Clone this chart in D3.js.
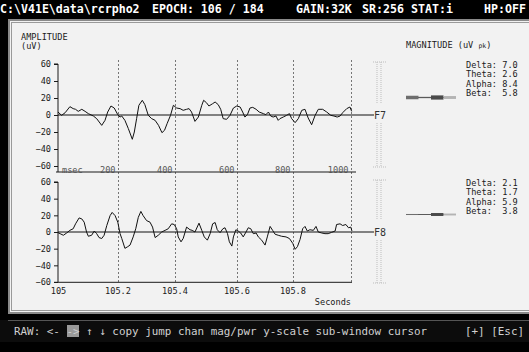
<!DOCTYPE html>
<html>
<head>
<meta charset="utf-8">
<script src="https://cdn.jsdelivr.net/npm/d3@7"></script>
<style>
  html, body { margin: 0; padding: 0; background: #000; }
  svg { display: block; }
  text { font-family: "DejaVu Sans Mono", monospace; }
</style>
</head>
<body>
<div id="chart"></div>
<script>
// header / footer texts
const headerItems = [
  { text: 'C:\\V41E\\data\\rcrpho2', x: 0 },
  { text: 'EPOCH: 106 / 184', x: 152 },
  { text: 'GAIN:32K', x: 296 },
  { text: 'SR:256', x: 362 },
  { text: 'STAT:i', x: 411 },
  { text: 'HP:OFF', x: 484 }
];
const menuText = 'RAW: <- -> \u2191 \u2193 copy jump chan mag/pwr y-scale sub-window cursor';
const menuRight = '[+] [Esc]';

// epoch
const epochStartSec = 105;
const msecTicks = [200, 400, 600, 800, 1000];
const secTicks = [0, 200, 400, 600, 800];
const ampTicks = [-60, -40, -20, 0, 20, 40, 60];

// channels
const channelNames = ['F7', 'F8'];
const bandNames = ['Delta', 'Theta', 'Alpha', 'Beta'];
const f7Magnitude = [7.0, 2.6, 8.4, 5.8];
const f8Magnitude = [2.1, 1.7, 5.9, 3.8];

// raw trace, [msec, uV]
const f7Trace = [[0,3.5],[12,-0.4],[24,2.7],[40,9.8],[51,7.5],[59,6.7],[68,4.3],[80,6.7],[91,4.3],[102,1.6],[119,-1.2],[130,-4.3],[147,-12.2],[158,-6.3],[167,3.5],[178,10.6],[189,8.2],[201,0.4],[209,-2.4],[215,-1.2],[226,-6.3],[238,-16],[252,-28.6],[259,-20],[267,-4.3],[275,11.4],[287,17.3],[296,12.2],[308,-0.4],[320,-4.3],[332,-6.3],[344,-12.2],[356,-20.8],[365,-18],[374,-10.2],[386,-0.4],[396,11.4],[407,8.2],[418,7.5],[428,5.5],[439,6.7],[447,7.5],[455,3.5],[466,-7.5],[477,-2.4],[488,11.4],[494,17.3],[503,14.5],[511,10.6],[523,13.3],[531,15.3],[541,12.2],[549,6.7],[557,-4.3],[568,-5.1],[579,-0.4],[590,8.2],[601,10.6],[613,9.4],[622,3.5],[630,-2.4],[639,0.4],[648,8.2],[658,9],[670,6.7],[681,3.5],[696,1.6],[705,0.4],[714,3.5],[722,-1.2],[731,-2.4],[741,-1.2],[749,-6.3],[755,-4.3],[767,-2.4],[779,-0.4],[789,1.6],[797,-4.3],[809,-9],[820,-4.3],[832,5.5],[843,6.7],[854,-3.5],[866,-11.4],[878,-0.4],[889,6.7],[904,6.7],[918,3.5],[932,-0.4],[943,-1.2],[954,-2.4],[964,-1.2],[973,2.7],[987,7.5],[998,9.4],[1004,4.3]];
const f8Trace = [[0,-0.8],[7,-2],[18,-3.9],[29,-1.2],[40,2],[51,3.9],[59,9.8],[71,16.9],[80,15.7],[88,11.8],[96,0],[102,-5.1],[113,-3.9],[122,1.2],[130,-2],[138,-6.7],[147,-7.8],[155,-3.9],[164,7.8],[175,19.6],[182,23.5],[192,19.6],[201,11.8],[209,-2],[215,-7.8],[226,-19.6],[236,-17.6],[244,-15.7],[255,-5.9],[264,3.9],[273,17.6],[282,24.7],[290,19.6],[302,13.7],[314,11.8],[323,5.9],[332,-6.7],[343,-3.9],[355,0],[367,2],[378,3.9],[390,9.8],[399,9],[407,3.9],[412,-5.9],[421,-11.8],[428,-7.8],[439,5.9],[450,2.7],[457,2],[466,0],[479,10.6],[488,2],[496,-5.9],[506,-9.8],[515,-2],[523,9.8],[531,11.4],[538,2.7],[547,-0.8],[556,3.9],[563,5.1],[571,-2],[577,-11.8],[585,-16.9],[590,-5.9],[598,2.7],[606,1.2],[615,-1.2],[624,-5.9],[634,0],[642,5.1],[651,3.9],[660,-2],[670,-1.2],[678,-5.9],[690,-9.8],[702,-15.7],[710,-5.9],[720,6.7],[729,2],[738,-2.7],[749,-3.9],[761,-5.1],[777,-5.9],[789,-7.8],[801,-13.7],[809,-20.8],[817,-17.6],[826,-9],[835,3.9],[843,6.7],[851,1.2],[860,2.7],[872,2],[881,6.7],[889,0],[901,-1.2],[912,-2],[923,-2],[935,-0.4],[947,1.2],[952,9],[964,9.8],[973,7.8],[984,9],[993,5.1],[1001,5.9],[1005,1.2]];

const width = 529;
const height = 352;
const ink = '#1a1a1a';
const bandColors = ['#6e6e6e', '#5a5a5a', '#4a4a4a', '#b4b4b4'];

const svg = d3.select('#chart').append('svg')
  .attr('width', width)
  .attr('height', height);

svg.append('rect').attr('width', width).attr('height', height).attr('fill', '#000');

// header
svg.append('g').selectAll('text')
  .data(headerItems)
  .join('text')
  .attr('x', d => d.x)
  .attr('y', 13)
  .attr('fill', '#fff')
  .style('font-size', '11.6px')
  .style('font-weight', 'bold')
  .text(d => d.text);

// main panel with double frame
svg.append('rect').attr('x', 8).attr('y', 19).attr('width', 521).attr('height', 295).attr('fill', '#8a8a8a');
svg.append('rect').attr('x', 10).attr('y', 21).attr('width', 519).attr('height', 291).attr('fill', '#f2f2f2');
svg.append('rect').attr('x', 11.5).attr('y', 22.5).attr('width', 520).attr('height', 288)
  .attr('fill', 'none').attr('stroke', '#9a9a9a');

// footer menu
const menu = svg.append('g');
menu.append('rect').attr('x', 0).attr('y', 320).attr('width', width).attr('height', 22).attr('fill', '#0c0c0c');
menu.append('line').attr('x1', 8).attr('x2', width).attr('y1', 320.5).attr('y2', 320.5).attr('stroke', '#555');
menu.append('rect').attr('x', 67).attr('y', 325).attr('width', 12).attr('height', 12).attr('fill', '#9a9a9a');
menu.append('text').attr('x', 14).attr('y', 335).attr('fill', '#d0d0d0')
  .style('font-size', '10.9px').attr('xml:space', 'preserve').text(menuText);
menu.append('text').attr('x', 465).attr('y', 335).attr('fill', '#d0d0d0')
  .style('font-size', '10.9px').text(menuRight);

// scales
const xScale = d3.scaleLinear()
  .domain([0, 200, 400, 600, 800, 1000])
  .range([58, 117.5, 174.5, 236.5, 292.5, 350.5]);

const panels = [
  { name: channelNames[0], trace: f7Trace, mags: f7Magnitude, top: 64, bottom: 166, magY: 97.5, textY: 68 },
  { name: channelNames[1], trace: f8Trace, mags: f8Magnitude, top: 182, bottom: 282, magY: 214.5, textY: 186 }
];

const smallFont = '8.6px';

// amplitude title
svg.append('text').attr('x', 21).attr('y', 40).attr('fill', ink).style('font-size', smallFont).text('AMPLITUDE');
svg.append('text').attr('x', 21).attr('y', 49).attr('fill', ink).style('font-size', smallFont).text('(uV)');

// magnitude title
const magTitle = svg.append('text').attr('x', 406).attr('y', 48).attr('fill', ink).style('font-size', smallFont);
magTitle.append('tspan').text('MAGNITUDE (uV ');
magTitle.append('tspan').style('font-size', '6.5px').text('pk');
magTitle.append('tspan').text(')');

// vertical dashed epoch markers
svg.append('g').selectAll('line')
  .data(msecTicks)
  .join('line')
  .attr('x1', d => Math.round(xScale(d)) + 0.5).attr('x2', d => Math.round(xScale(d)) + 0.5)
  .attr('y1', 60).attr('y2', 282)
  .attr('stroke', '#555')
  .attr('stroke-width', 0.8)
  .attr('stroke-dasharray', '2,2');

panels.forEach((p, i) => {
  const yScale = d3.scaleLinear().domain([-60, 60]).range([p.bottom, p.top]);
  const g = svg.append('g');

  // y-axis
  g.append('g')
    .attr('transform', 'translate(58,0)')
    .call(d3.axisLeft(yScale).tickValues(ampTicks).tickSize(4).tickPadding(3).tickFormat(d3.format('d')))
    .call(a => a.select('.domain').attr('stroke', ink).attr('d', 'M-4,' + yScale(60) + 'H0V' + (i === 0 ? 172 : yScale(-60))))
    .call(a => a.selectAll('.tick line').attr('stroke', ink))
    .call(a => a.selectAll('.tick text').attr('fill', ink).style('font-size', smallFont).style('font-family', '"DejaVu Sans Mono", monospace'));

  // zero line and channel label
  g.append('line')
    .attr('x1', 58).attr('x2', 374)
    .attr('y1', yScale(0)).attr('y2', yScale(0))
    .attr('stroke', '#111').attr('stroke-width', 1.2);
  g.append('text')
    .attr('x', 374).attr('y', yScale(0) + 4)
    .attr('fill', '#333').style('font-size', '10px')
    .text(p.name);

  // trace
  const line = d3.line()
    .x(d => xScale(d[0]))
    .y(d => yScale(d[1]));
  g.append('path')
    .datum(p.trace)
    .attr('d', line)
    .attr('fill', 'none')
    .attr('stroke', '#111')
    .attr('stroke-width', 1);

  // scale bracket
  const br = g.append('g').attr('stroke', '#bdbdbd').attr('stroke-dasharray', '1,1');
  [[p.top - 2, yScale(0) - 12], [yScale(0) + 8, p.bottom + 1]].forEach(seg => {
    br.append('line').attr('x1', 377).attr('x2', 377).attr('y1', seg[0]).attr('y2', seg[1]);
    br.append('line').attr('x1', 381).attr('x2', 381).attr('y1', seg[0]).attr('y2', seg[1]);
  });
  br.append('line').attr('x1', 373).attr('x2', 386).attr('y1', p.top - 2).attr('y2', p.top - 2);
  br.append('line').attr('x1', 373).attr('x2', 386).attr('y1', p.bottom + 1).attr('y2', p.bottom + 1);

  // band magnitudes text
  g.append('g').selectAll('text')
    .data(bandNames)
    .join('text')
    .attr('x', 466)
    .attr('y', (d, j) => p.textY + j * 9.3)
    .attr('fill', ink)
    .attr('xml:space', 'preserve')
    .style('font-size', smallFont)
    .text((d, j) => (d + ':').padEnd(7, ' ') + p.mags[j].toFixed(1));

  // band magnitude bar
  const bandX = d3.scaleBand().domain(bandNames).range([406, 456]);
  const magH = d3.scaleLinear().domain([0, 10]).range([0, 5]);
  g.append('line')
    .attr('x1', 406).attr('x2', 456)
    .attr('y1', p.magY).attr('y2', p.magY)
    .attr('stroke', '#555').attr('stroke-width', 1);
  g.append('g').selectAll('rect')
    .data(bandNames)
    .join('rect')
    .attr('x', d => bandX(d))
    .attr('width', bandX.bandwidth())
    .attr('y', (d, j) => p.magY - Math.max(magH(p.mags[j]), 1) / 2)
    .attr('height', (d, j) => Math.max(magH(p.mags[j]), 1))
    .attr('fill', (d, j) => bandColors[j]);
});

// msec axis under the top channel
const msecAxis = svg.append('g');
msecAxis.append('line').attr('x1', 56).attr('x2', 356).attr('y1', 172).attr('y2', 172).attr('stroke', ink);
msecAxis.append('text').attr('x', 62).attr('y', 173).attr('fill', '#555').style('font-size', smallFont).text('msec');
msecAxis.selectAll('text.ms')
  .data(msecTicks)
  .join('text')
  .attr('class', 'ms')
  .attr('x', d => xScale(d) - 2)
  .attr('y', 173)
  .attr('text-anchor', 'end')
  .attr('fill', '#555')
  .style('font-size', smallFont)
  .text(d => d);

// seconds axis
svg.append('g')
  .attr('transform', 'translate(0,282.3)')
  .call(d3.axisBottom(xScale).tickValues(secTicks).tickSize(0).tickPadding(6)
    .tickFormat(d => String(+(epochStartSec + d / 1000).toFixed(1))))
  .call(a => a.select('.domain').attr('stroke', ink).attr('d', 'M54,0H352'))
  .call(a => a.selectAll('.tick text').attr('fill', ink).style('font-size', smallFont).style('font-family', '"DejaVu Sans Mono", monospace'));

svg.append('text').attr('x', 351).attr('y', 305).attr('text-anchor', 'end')
  .attr('fill', ink).style('font-size', smallFont).text('Seconds');
</script>
</body>
</html>
